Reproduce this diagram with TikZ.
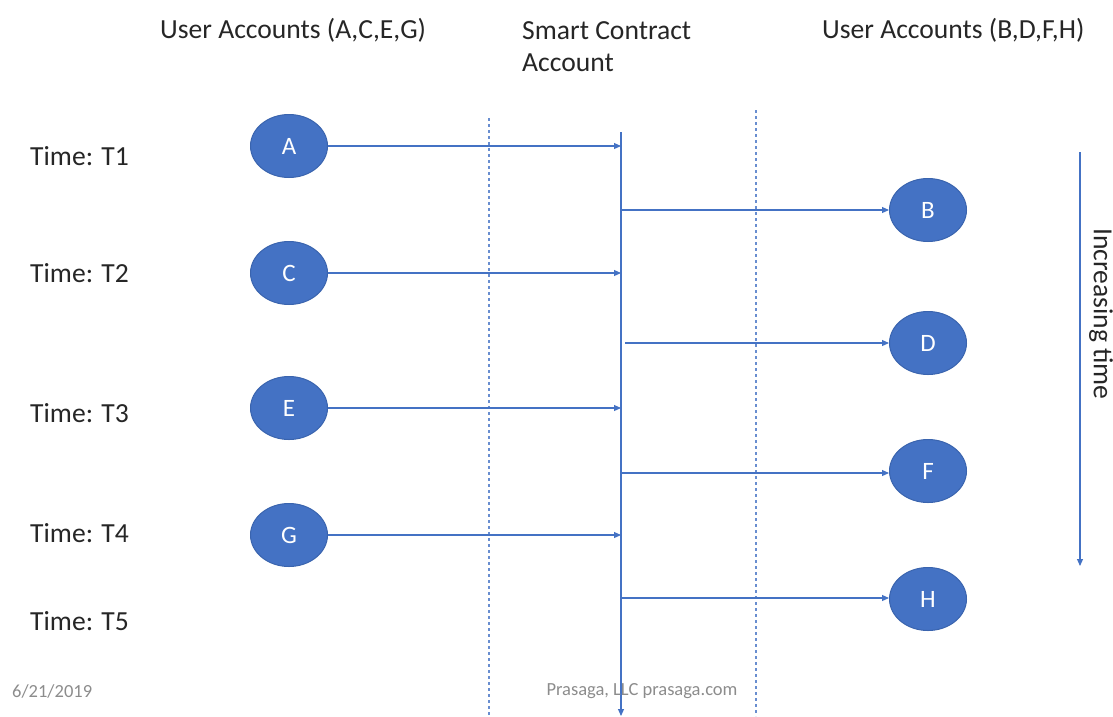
\documentclass[tikz,border=0pt]{standalone}
\usepackage{fontspec}
\setmainfont{Carlito}
\usetikzlibrary{arrows.meta,shapes.geometric}
\definecolor{acct}{HTML}{4472C4}
\definecolor{acctedge}{HTML}{3A64AE}
\definecolor{foot}{HTML}{8C8C8C}
\definecolor{txt}{HTML}{262626}
\begin{document}
\begin{tikzpicture}[x=1pt,y=-1pt,
  account/.style={ellipse,draw=acctedge,fill=acct,line width=1pt,minimum width=77pt,minimum height=63pt,inner sep=0pt,text=white,font=\fontsize{25}{27}\selectfont},
  flow/.style={draw=acct,line width=1.1pt,-{Triangle[length=7pt,width=6pt]}},
  divider/.style={draw=acct!80,line width=1.5pt,dash pattern=on 3pt off 3pt},
  lbl/.style={text=txt,font=\fontsize{27.6}{32}\selectfont,inner sep=0pt},
  footer/.style={text=foot,font=\fontsize{18.5}{20}\selectfont,inner sep=0pt}]
\useasboundingbox (0,0) rectangle (1113,716);
% column headings
\node[lbl,anchor=west] (hl) at (160,30) {User Accounts (A,C,E,G)};
\node[lbl,anchor=north west,align=left] (hm) at (522,21) {Smart Contract\\Account};
\node[lbl,anchor=west] (hr) at (822,30) {User Accounts (B,D,F,H)};
% time labels
\node[lbl,anchor=west] (t1) at (30,156) {Time: T1};
\node[lbl,anchor=west] (t2) at (30,273) {Time: T2};
\node[lbl,anchor=west] (t3) at (30,413) {Time: T3};
\node[lbl,anchor=west] (t4) at (30,533) {Time: T4};
\node[lbl,anchor=west] (t5) at (30,621) {Time: T5};
% dotted column separators
\coordinate (d1t) at (489,118); \coordinate (d1b) at (489,716);
\coordinate (d2t) at (756,110); \coordinate (d2b) at (756,716);
\draw[divider] (d1t) -- (d1b);
\draw[divider] (d2t) -- (d2b);
% smart contract timeline
\coordinate (sct) at (621,132); \coordinate (scb) at (621,716);
\draw[flow] (sct) -- (scb);
% accounts
\node[account] (A) at (289,146) {A};
\node[account] (C) at (289,273) {C};
\node[account] (E) at (289,408) {E};
\node[account] (G) at (289,535) {G};
\node[account] (B) at (928,210) {B};
\node[account] (D) at (928,343) {D};
\node[account] (F) at (928,471) {F};
\node[account] (H) at (928,599) {H};
% incoming transfers
\coordinate (ia) at (621,146); \coordinate (ic) at (621,273);
\coordinate (ie) at (621,408); \coordinate (ig) at (621,535);
\draw[flow] (A.east) -- (ia);
\draw[flow] (C.east) -- (ic);
\draw[flow] (E.east) -- (ie);
\draw[flow] (G.east) -- (ig);
% outgoing transfers
\coordinate (ob) at (621,210); \coordinate (od) at (625,343);
\coordinate (of) at (621,473); \coordinate (oh) at (621,598);
\draw[flow] (ob) -- (B.west |- ob);
\draw[flow] (od) -- (D.west |- od);
\draw[flow] (of) -- (F.west |- of);
\draw[flow] (oh) -- (H.west |- oh);
% time direction
\coordinate (tt) at (1080,152); \coordinate (tb) at (1080,566);
\draw[flow] (tt) -- (tb);
\node[lbl,rotate=-90] (inc) at (1101,314) {Increasing time};
% footer
\node[footer,anchor=west] (date) at (12,691) {6/21/2019};
\node[footer] (firm) at (642,691) {Prasaga, LLC prasaga.com};
\end{tikzpicture}
\end{document}
